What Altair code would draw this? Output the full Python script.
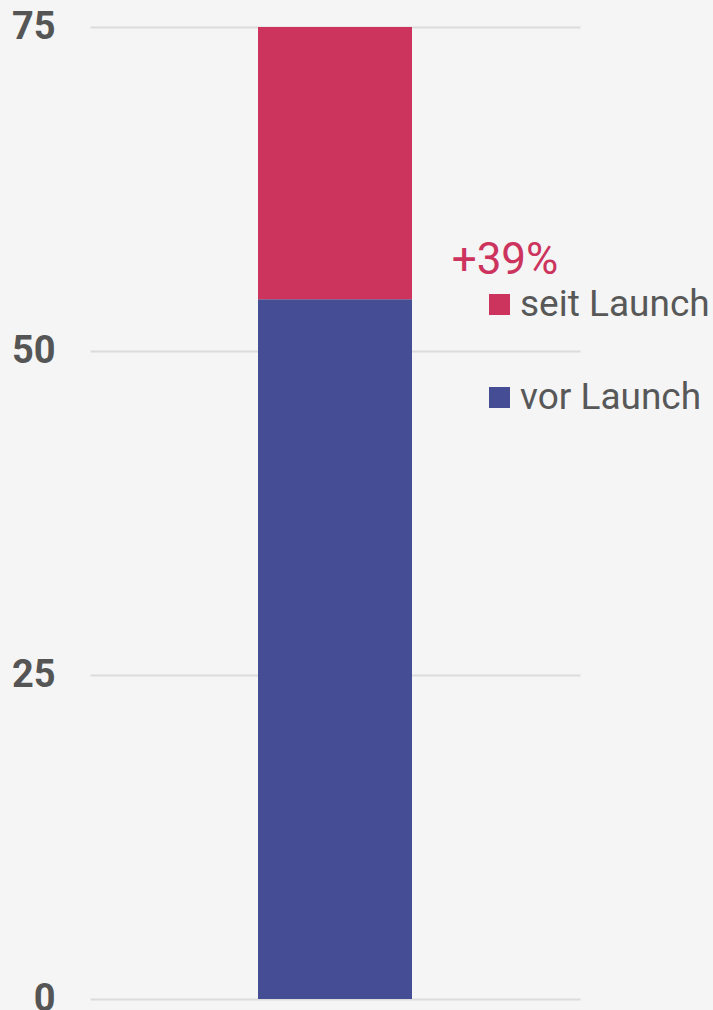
import altair as alt
import pandas as pd

categories = ["vor Launch", "seit Launch"]
values = [54, 21]
stack_order = [0, 1]
bar_x = ["A", "A"]

df = pd.DataFrame({"serie": categories, "wert": values, "ord": stack_order, "x": bar_x})
pct = round(values[1] / values[0] * 100)
ann = pd.DataFrame({"label": [f"+{pct}%"]})

FONT = "Roboto"

bars = alt.Chart(df).mark_bar(size=154).encode(
    x=alt.X("x:N", axis=None, scale=alt.Scale(paddingInner=0, paddingOuter=0)),
    y=alt.Y("wert:Q", stack="zero",
            scale=alt.Scale(domain=[0, 75], nice=False),
            axis=alt.Axis(values=[0, 25, 50, 75], title=None, domain=False, ticks=False,
                          labelFont=FONT, labelFontSize=38, labelFontWeight="bold",
                          labelColor="#555555", labelPadding=35,
                          grid=True, gridColor="#dcdcdc", gridWidth=2)),
    color=alt.Color("serie:N",
                    scale=alt.Scale(domain=["seit Launch", "vor Launch"],
                                    range=["#cc345e", "#454e95"]),
                    legend=alt.Legend(orient="none", legendX=391, legendY=259, title=None,
                                      symbolType="square", symbolSize=441, symbolStrokeWidth=0,
                                      labelFont=FONT, labelFontSize=37, labelColor="#585858",
                                      labelOffset=2, rowPadding=55, padding=0, labelLimit=400)),
    order=alt.Order("ord:Q"),
)

text = alt.Chart(ann).mark_text(font=FONT, fontSize=44, color="#cc345e",
                                align="center", baseline="alphabetic").encode(
    text="label:N", x=alt.value(415), y=alt.value(247)
)

chart = alt.layer(bars, text).properties(
    width=490, height=972,
    background="#f5f5f5",
    padding={"left": 90, "top": 27, "right": 133, "bottom": 11},
    autosize=alt.AutoSizeParams(type="none"),
).configure_view(stroke=None)

chart.save("out.html", embed_options={"renderer": "svg", "actions": False})
